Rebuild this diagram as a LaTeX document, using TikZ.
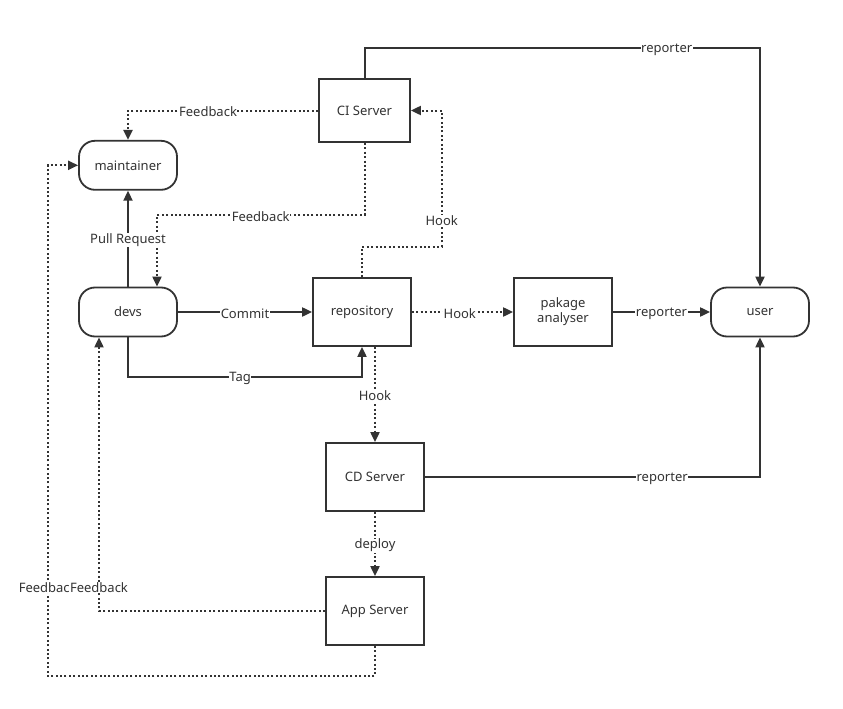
\documentclass[tikz,border=0pt]{standalone}
\usepackage{fontspec}
\setmainfont{Noto Sans}
\usetikzlibrary{arrows.meta}
\definecolor{ink}{HTML}{333333}
\begin{document}
\begin{tikzpicture}[x=1pt,y=-1pt,
  every node/.style={text=ink,font=\fontsize{13}{15}\selectfont},
  box/.style={draw=ink,line width=1.8pt,minimum width=98pt,minimum height=68pt,inner sep=2pt,align=center},
  pill/.style={draw=ink,line width=1.8pt,minimum width=98pt,minimum height=49pt,rounded corners=16pt,inner sep=2pt},
  conn/.style={draw=ink,line width=2pt,-{Triangle[length=10pt,width=9pt]}},
  solidconn/.style={conn},
  dotconn/.style={conn,dash pattern=on 2pt off 2.4pt},
  lbl/.style={fill=white,inner sep=0.5pt,yshift=-1.5pt}
]
\fill[white] (0,0) rectangle (843,709);
\useasboundingbox (0,0) rectangle (843,709);

\node[box,minimum width=91pt,minimum height=63pt] (ci) at (364.5,110.5) {CI Server};
\node[pill] (maint) at (128,165.3) {maintainer};
\node[pill] (devs) at (128,312) {devs};
\node[box] (repo) at (362,312) {repository};
\node[box] (pak) at (563,312) {pakage\\analyser};
\node[pill] (user) at (760,312) {user};
\node[box] (cd) at (375,477) {CD Server};
\node[box] (app) at (375,611) {App Server};

% CI -> user
\draw[solidconn] (ci.north) -- (ci.north |- 0,48) -- node[lbl,pos=0.764]{reporter} (user.north |- 0,48) -- (user.north);
% CI -> maintainer
\draw[dotconn] (ci.west) -- node[lbl,pos=0.579]{Feedback} (maint.north |- ci.west) -- (maint.north);
% CI -> devs
\draw[dotconn] (ci.south) -- (ci.south |- 0,215) -- node[lbl,pos=0.5]{Feedback} (157,215) -- (devs.north -| 157,0);
% devs -> maintainer
\draw[solidconn] (devs.north) -- node[lbl]{Pull Request} (maint.south);
% repo -> CI
\draw[dotconn] (repo.north) -- (repo.north |- 0,246.7) -- (441.7,246.7) -- node[lbl,pos=0.2]{Hook} (ci.east -| 441.7,0) -- (ci.east);
% devs -> repo
\draw[solidconn] (devs.east) -- node[lbl]{Commit} (repo.west);
% devs -> repo (tag)
\draw[solidconn] (devs.south) -- (devs.south |- 0,376.7) -- node[lbl,pos=0.479]{Tag} (repo.south |- 0,376.7) -- (repo.south);
% repo -> pak
\draw[dotconn] (repo.east) -- node[lbl,pos=0.473]{Hook} (pak.west);
% pak -> user
\draw[solidconn] (pak.east) -- node[lbl]{reporter} (user.west);
% repo -> CD
\draw[dotconn] (cd.north |- repo.south) -- node[lbl]{Hook} (cd.north);
% CD -> user
\draw[solidconn] (cd.east) -- node[lbl,pos=0.708]{reporter} (cd.east -| user.south) -- (user.south);
% CD -> App
\draw[dotconn] (cd.south) -- node[lbl]{deploy} (app.north);
% App -> maintainer
\draw[dotconn] (app.south) -- (app.south |- 0,676) -- (47.7,676) -- node[lbl,pos=0.176]{Feedback} (maint.west -| 47.7,0) -- (maint.west);
% App -> devs
\draw[dotconn] (app.west) -- (app.west -| 99,0) -- node[lbl,pos=0.091]{Feedback} (devs.south -| 99,0);
\end{tikzpicture}
\end{document}
